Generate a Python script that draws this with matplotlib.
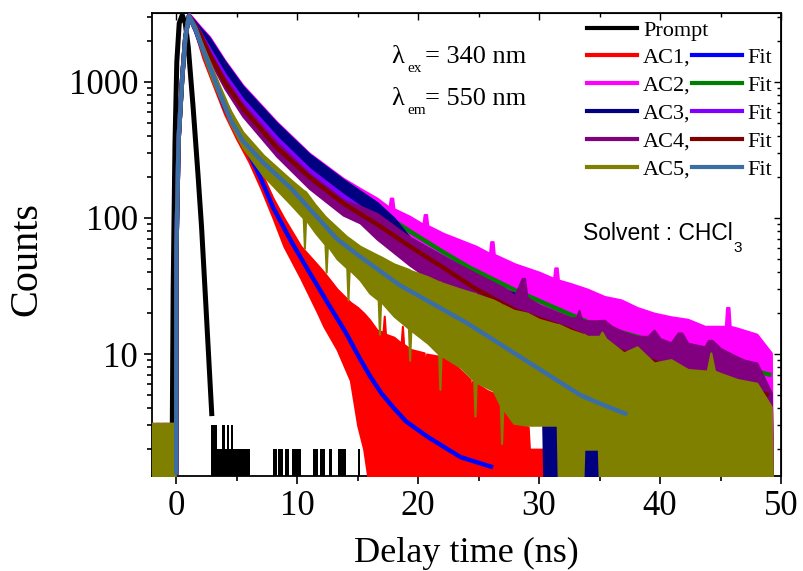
import matplotlib
matplotlib.use("Agg")
import matplotlib.pyplot as plt
from matplotlib.lines import Line2D
from matplotlib.ticker import FixedLocator, NullFormatter, LogLocator, FixedFormatter

# ---------------- data (delay time in ns, counts) ----------------
# Instrument response (prompt)
t_prompt = [-0.35, -0.25, -0.1, 0.05, 0.25, 0.5, 0.75, 1.0, 1.4, 1.8, 2.1, 2.4, 2.7, 2.95]
c_prompt = [1.2, 30, 350, 1400, 2700, 3100, 2700, 1800, 650, 210, 85, 28, 9, 3.5]
# prompt tail: isolated low-count channels (start, end, counts)
prompt_tail_start = [2.9, 3.4, 3.8, 4.05, 4.2, 4.4, 4.55, 4.7, 8.0, 8.45, 9.0, 9.6, 11.3, 11.9, 12.6, 13.4, 15.0]
prompt_tail_end = [3.4, 3.8, 4.05, 4.2, 4.4, 4.55, 4.7, 6.1, 8.3, 8.8, 9.3, 10.3, 11.7, 12.3, 12.9, 14.0, 15.2]
prompt_tail_counts = [3, 2, 3, 2, 3, 2, 3, 2, 2, 2, 2, 2, 2, 2, 2, 2, 2]

# AC1 decay (noise envelope: upper / lower counts) and fit
t_ac1 = [-2.0, -0.08, -0.02, 0.2, 0.5, 0.75, 1.05, 1.6, 2.2, 3.0, 4.0, 5.0, 6.0, 7.0, 8.0, 8.9,
         10.3, 11.7, 12.2, 13.3, 14.4, 15.0, 15.5, 16.0, 16.6, 17.1, 17.2, 17.3, 18.0, 18.6,
         18.7, 18.8, 19.4, 20.5, 20.6, 20.7, 22.1, 22.8, 22.9, 23.0, 23.5, 24.3, 24.4, 24.5,
         25.7, 27.0, 28.0, 29.1, 29.2, 31.0, 31.1, 33.5, 33.6, 33.9, 34.0]
hi_ac1 = [2, 3, 70, 420, 1150, 2200, 3150, 2500, 1750, 1180, 740, 500, 340, 220, 140, 100,
          62, 45, 40, 30, 24, 22, 20, 17.8, 15, 14.5, 19, 14, 13.3, 12,
          16, 11.8, 10.8, 10.2, 6.5, 10, 9.5, 8.6, 11, 8.4, 7.6, 6.5, 4.5, 6.3,
          5.4, 4.8, 3.5, 2.9, 2.0, 2.0, 1.0, 1.0, 2.0, 2.0, 1.0]
lo_ac1 = [1, 1, 40, 330, 1000, 2000, 2950, 2250, 1500, 980, 580, 380, 260, 165, 100, 62,
          36, 20, 16, 10.8, 6.4, 3.0, 2.0, 1, 1, 1, 1, 1, 1, 1,
          1, 1, 1, 1, 1, 1, 1, 1, 1, 1, 1, 1, 1, 1,
          1, 1, 1, 1, 1, 1, 1, 1, 1, 1, 1]
t_fit1 = [0.0, 0.02, 0.2, 0.5, 0.75, 1.05, 1.6, 2.2, 3.0, 4.0, 5.0, 5.5, 6.0, 7.0, 8.0, 9.44,
          11.0, 12.75, 14.0, 15.2, 16.06, 17.0, 18.0, 19.0, 20.8, 23.5, 26.2]
c_fit1 = [1.3, 60, 380, 1080, 2100, 3050, 2400, 1720, 1120, 650, 440, 370, 300, 195, 120, 69,
          40, 22, 14.5, 9.2, 6.8, 5.1, 4.0, 3.2, 2.46, 1.75, 1.47]

# AC2
t_ac2 = [-2.0, -0.08, -0.02, 0.2, 0.5, 0.75, 1.05, 2.0, 2.76, 4.0, 5.5, 8.3, 11.0, 13.8, 15.2,
         16.6, 17.6, 17.7, 17.9, 18.0, 19.3, 20.4, 20.5, 20.7, 20.8, 22.1, 24.8, 25.9, 26.0,
         26.2, 26.3, 28.0, 30.0, 31.2, 31.3, 31.5, 31.6, 32.6, 34.0, 35.4, 36.8, 38.1, 39.5,
         40.9, 42.3, 43.7, 45.4, 45.5, 45.7, 45.8, 46.4, 48.0, 49.2, 49.3]
hi_ac2 = [3.1, 3.1, 80, 430, 1200, 2250, 3200, 2550, 2150, 1450, 950, 510, 300, 196, 165,
          140, 120, 140, 140, 117, 103, 90, 106, 106, 88, 77, 62, 55, 67,
          67, 54, 46, 40, 36, 43, 43, 35, 33, 30, 26.5, 25, 22, 20,
          18.8, 18, 16, 16, 22, 22, 16, 15.5, 14, 10.2, 1]
lo_ac2 = [1, 1, 45, 340, 1000, 2000, 2950, 2100, 1700, 1100, 700, 370, 215, 140, 115,
          95, 85, 84, 83, 82, 70, 62, 61, 60, 60, 50, 38, 34, 33,
          33, 32, 27, 22, 19, 19, 18, 18, 17, 15, 13, 12, 11, 10,
          9, 8.5, 8, 7, 7, 7, 7, 6.5, 6, 5, 1]
t_fit2 = [0.0, 0.02, 0.2, 0.5, 0.75, 1.05, 2.0, 2.76, 4.0, 5.5, 8.3, 11.0, 13.8, 16.6, 19.3,
          22.1, 24.3, 28.0, 32.6, 34.5, 38.0, 42.0, 46.0, 49.2]
c_fit2 = [1.3, 60, 380, 1080, 2100, 3050, 2250, 1750, 1150, 750, 400, 235, 155, 115, 80,
          56, 43, 29.5, 19.5, 16.5, 13.5, 10.5, 8.3, 7.0]

# AC3
t_ac3 = [-2.0, -0.08, -0.02, 0.2, 0.5, 0.75, 1.05, 2.0, 2.76, 4.0, 5.5, 8.3, 11.0, 13.8, 15.2,
         16.6, 18.0, 19.3, 22.1, 24.8, 27.0, 28.0, 30.3, 30.4, 31.5, 31.6, 33.6, 33.7, 34.9, 35.0]
hi_ac3 = [2, 2, 75, 430, 1180, 2230, 3150, 2500, 2100, 1420, 930, 500, 295, 192, 158,
          130, 100, 72, 52, 38, 30, 28, 22, 21, 18, 18, 15, 15, 14, 1]
lo_ac3 = [1, 1, 45, 340, 1000, 2000, 2950, 2100, 1650, 1080, 680, 360, 205, 130, 105,
          85, 65, 50, 32, 18, 6, 3.1, 3.1, 1, 1, 3, 3, 1, 1, 1]
t_fit3 = [0.0, 0.02, 0.2, 0.5, 0.75, 1.05, 2.0, 2.76, 4.0, 5.5, 8.3, 11.0, 13.8, 16.6, 19.3,
          22.1, 24.8, 28.0, 32.0, 35.0]
c_fit3 = [1.3, 60, 380, 1080, 2100, 3050, 2250, 1720, 1120, 730, 385, 225, 145, 98, 66,
          47, 36, 26, 18, 14]

# AC4
t_ac4 = [-2.0, -0.08, -0.02, 0.2, 0.5, 0.75, 1.05, 2.0, 2.76, 4.0, 5.5, 8.3, 11.0, 13.8, 15.2,
         16.6, 19.3, 22.1, 24.8, 27.0, 28.0, 28.6, 28.8, 29.0, 30.0, 32.6, 33.1, 33.3, 33.5,
         34.0, 35.4, 36.0, 37.0, 38.1, 39.0, 39.5, 40.0, 40.9, 41.5, 41.8, 42.3, 43.7, 44.0,
         44.3, 45.0, 46.4, 47.0, 48.0, 49.2, 49.3]
hi_ac4 = [2, 2, 75, 430, 1180, 2230, 3150, 2350, 1650, 1070, 690, 360, 212, 136, 122,
          108, 72, 52, 39, 31, 27, 36, 36, 26, 23, 18.5, 18.5, 21, 18,
          17.5, 17.7, 16, 14.5, 13.5, 13.5, 15, 13, 12.1, 14.3, 14.3, 12, 11.3, 12.6,
          12.6, 11, 9.5, 9, 8.6, 5.2, 1]
lo_ac4 = [1, 1, 45, 340, 1000, 2000, 2950, 2000, 1450, 900, 560, 285, 165, 105, 92,
          70, 45, 30, 20, 15, 13, 12.5, 12.5, 12, 11, 8, 7.8, 7.6, 7.4,
          7, 6.5, 6, 5.5, 5, 5, 5, 4.5, 4, 4, 4, 4, 3.5, 3.5,
          3.5, 3, 2.5, 2.5, 2, 2, 1]
t_fit4 = [0.0, 0.02, 0.2, 0.5, 0.75, 1.05, 2.0, 2.76, 4.0, 5.5, 8.3, 11.0, 13.8, 16.6, 19.3,
          22.1, 24.8, 28.0, 32.6, 36.0, 40.0, 44.0, 49.0]
c_fit4 = [1.3, 60, 380, 1080, 2100, 3050, 2200, 1600, 1000, 640, 330, 200, 128, 90, 62,
          43, 30, 21, 15, 11, 8.5, 6.6, 5.0]

# AC5
t_ac5 = [-2.0, -1.85, -1.85, -1.7, -1.7, -1.35, -1.35, -1.2, -1.2, -0.08, -0.02, 0.2, 0.5, 0.75,
         1.05, 1.6, 2.2, 3.0, 3.6, 4.5, 5.5, 7.2, 9.5, 10.5, 10.6, 10.7, 11.5, 12.3, 12.4, 12.5,
         13.3, 14.1, 14.2, 14.3, 15.2, 16.0, 16.7, 16.8, 16.9, 18.0, 19.2, 19.3, 19.4, 20.8,
         21.7, 21.8, 21.9, 23.5, 24.6, 24.7, 24.8, 26.2, 26.8, 26.9, 27.0, 27.9, 29.0, 30.0,
         31.5, 31.6, 32.6, 33.6, 33.7, 34.0, 34.9, 35.0, 35.2, 35.5, 37.0, 38.1, 39.5, 40.9,
         42.3, 43.9, 44.2, 44.5, 45.0, 46.4, 48.0, 49.2, 49.3]
hi_ac5 = [3.1, 3.1, 2.0, 2.0, 3.1, 3.1, 2.0, 2.0, 3.1, 3.1, 75, 430, 1180, 2230,
          3150, 2550, 1850, 1250, 930, 610, 430, 290, 190, 160, 158, 156, 125, 103, 101, 99,
          85, 73, 72, 71, 62, 57, 53, 52.5, 52, 46, 42, 41.5, 41, 37,
          34, 34, 33.5, 30, 28, 28, 27.5, 25, 23.5, 23, 23, 21, 20, 18,
          16.5, 16.5, 15, 14, 14, 13.5, 13.5, 13.5, 14.5, 13, 10.2, 11.3, 8.6, 9.1,
          7.7, 7.5, 10.2, 7.5, 7.2, 6.5, 6.1, 4.1, 1]
lo_ac5 = [1, 1, 1, 1, 1, 1, 1, 1, 1, 1, 40, 330, 1000, 2000,
          2950, 2300, 1600, 1020, 760, 490, 330, 205, 125, 100, 60, 98, 78, 64, 40, 63,
          50, 43, 25, 42, 35, 28, 25, 14, 24.5, 19, 15.5, 9, 15, 12,
          10, 5.5, 9.8, 8, 6.4, 3.5, 6.2, 5.4, 4.2, 2.2, 4.0, 3.1, 3.0, 3.0,
          3.0, 1, 1, 1, 2.0, 2.0, 2.0, 1, 1, 1, 1, 1, 1, 1,
          1, 1, 1, 1, 1, 1, 1, 1, 1]
t_fit5 = [0.0, 0.02, 0.2, 0.5, 0.75, 1.05, 1.6, 2.2, 3.0, 3.6, 4.5, 5.5, 7.2, 9.5, 11.5,
          13.3, 15.2, 18.5, 21.0, 24.0, 27.0, 29.5, 33.4, 35.1, 37.3]
c_fit5 = [1.3, 60, 380, 1080, 2100, 3050, 2450, 1750, 1150, 830, 525, 370, 255, 165, 105,
          70, 52, 32, 24, 17, 11.5, 8.3, 5.0, 4.3, 3.6]

samples = ["AC1", "AC2", "AC3", "AC4", "AC5"]
data_colors = ["#FF0000", "#FF00FF", "#000080", "#800080", "#808000"]
fit_colors = ["#0000FF", "#008000", "#8000FF", "#800000", "#3A6EA5"]

# ---------------- figure ----------------
plt.rcParams["font.family"] = ["Liberation Serif", "DejaVu Serif"]
fig = plt.figure(figsize=(8.04, 5.71), dpi=100)
ax = fig.add_axes([152 / 804, 1 - 476 / 571, 629 / 804, 463 / 571])
ax.set_yscale("log")

# prompt
ax.plot(t_prompt, c_prompt, color="black", lw=3.6, solid_capstyle="butt", zorder=2)
ax.bar(prompt_tail_start,
       [c - 1.0 for c in prompt_tail_counts],
       width=[e - s for s, e in zip(prompt_tail_start, prompt_tail_end)],
       bottom=1.0, align="edge", color="black", linewidth=0, zorder=2)

decays = [(t_ac1, hi_ac1, lo_ac1), (t_ac2, hi_ac2, lo_ac2), (t_ac3, hi_ac3, lo_ac3),
          (t_ac4, hi_ac4, lo_ac4), (t_ac5, hi_ac5, lo_ac5)]
fits = [(t_fit1, c_fit1), (t_fit2, c_fit2), (t_fit3, c_fit3), (t_fit4, c_fit4), (t_fit5, c_fit5)]

# each decay followed by its fit, so later samples overlay earlier ones
z = 3
for (t, hi, lo), (tf, cf), dc, fc in zip(decays, fits, data_colors, fit_colors):
    ax.fill_between(t, lo, hi, color=dc, linewidth=1.5, edgecolor=dc, zorder=z)
    ax.plot(tf, cf, color=fc, lw=3.2, solid_capstyle="butt", zorder=z + 1)
    z += 2

ax.set_xlim(-2, 50)
ax.set_ylim(1.27, 3210)

# ticks
ax.xaxis.set_major_locator(FixedLocator([0, 10, 20, 30, 40, 50]))
ax.xaxis.set_minor_locator(FixedLocator([5, 15, 25, 35, 45]))
ax.yaxis.set_major_locator(FixedLocator([10, 100, 1000]))
ax.yaxis.set_major_formatter(FixedFormatter(["10", "100", "1000"]))
ax.yaxis.set_minor_locator(LogLocator(base=10, subs=range(2, 10)))
ax.yaxis.set_minor_formatter(NullFormatter())
ax.tick_params(axis="both", which="major", direction="out", length=6, width=1.2,
               labelsize=25, pad=4)
ax.tick_params(axis="both", which="minor", direction="out", length=3.5, width=1.2)
for s in ax.spines.values():
    s.set_linewidth(1.3)

top = ax.secondary_xaxis("top")
top.xaxis.set_major_locator(FixedLocator([0, 10, 20, 30, 40, 50]))
top.xaxis.set_minor_locator(FixedLocator([5, 15, 25, 35, 45]))
top.tick_params(which="major", direction="in", length=5, width=1.0, labeltop=False)
top.tick_params(which="minor", direction="in", length=3, width=1.0)
right = ax.secondary_yaxis("right")
right.yaxis.set_major_locator(FixedLocator([10, 100, 1000]))
right.yaxis.set_minor_locator(LogLocator(base=10, subs=range(2, 10)))
right.tick_params(which="major", direction="in", length=5, width=1.0, labelright=False)
right.tick_params(which="minor", direction="in", length=3, width=1.0, labelright=False)
right.yaxis.set_minor_formatter(NullFormatter())

ax.set_xlabel("Delay time (ns)", fontsize=26, va="baseline")
ax.xaxis.set_label_coords(0.5, (476 - 562) / 463)
ax.set_ylabel("Counts", fontsize=29, va="center")
ax.yaxis.set_label_coords((27 - 152) / 629, (476 - 259) / 463)


def axfrac(px, py):
    return (px - 152) / 629, (476 - py) / 463


# excitation / emission wavelengths
for lam_y, sub, rest in [(63, "ex", "= 340 nm"), (105, "em", "= 550 nm")]:
    ax.text(*axfrac(391, lam_y), "λ", fontsize=19, ha="left", va="baseline",
            transform=ax.transAxes)
    ax.text(*axfrac(407, lam_y + 9), sub, fontsize=11, ha="left", va="baseline",
            transform=ax.transAxes)
    ax.text(*axfrac(425, lam_y), rest, fontsize=19, ha="left", va="baseline",
            transform=ax.transAxes)

solv = ax.text(*axfrac(583, 240), "Solvent : CHCl", fontsize=16.5, ha="left", va="baseline",
               family=["Liberation Sans", "DejaVu Sans"], transform=ax.transAxes)
ax.annotate("3", xy=(1.0, 0.0), xycoords=solv, xytext=(0.5, -5), textcoords="offset points",
            fontsize=11, ha="left", va="baseline", family=["Liberation Sans", "DejaVu Sans"])

# legends
leg_fs = 16
h_prompt = [Line2D([], [], color="black", lw=3)]
leg1 = ax.legend(h_prompt, ["Prompt"], loc="upper left",
                 bbox_to_anchor=(587 / 804, 1 - 20 / 571), bbox_transform=fig.transFigure,
                 frameon=False, fontsize=leg_fs, handlelength=2.25, handletextpad=0.27,
                 borderpad=0, borderaxespad=0)
ax.add_artist(leg1)
handles = [Line2D([], [], color=c, lw=3) for c in data_colors] + \
          [Line2D([], [], color=c, lw=3) for c in fit_colors]
labels = [s + "," for s in samples] + ["Fit"] * 5
ax.legend(handles, labels, ncol=2, loc="upper left",
          bbox_to_anchor=(587 / 804, 1 - 47 / 571), bbox_transform=fig.transFigure,
          frameon=False, fontsize=leg_fs, handlelength=2.25, handletextpad=0.27,
          columnspacing=0.05, labelspacing=0.34, borderpad=0, borderaxespad=0)

fig.savefig("out.png", dpi=100)
